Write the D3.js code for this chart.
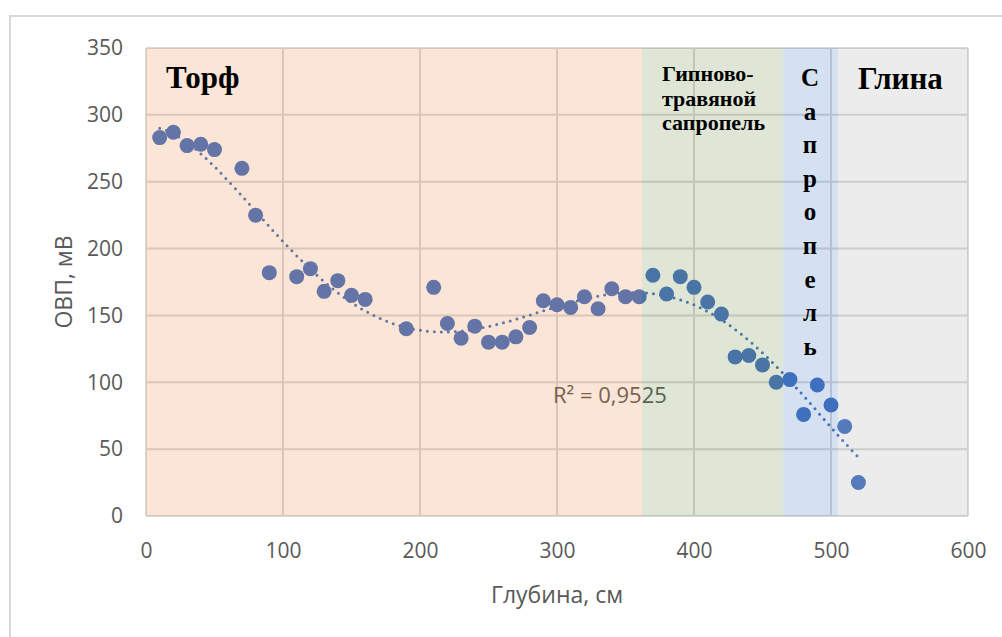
<!DOCTYPE html>
<html>
<head>
<meta charset="utf-8">
<script src="https://cdn.jsdelivr.net/npm/d3@7"></script>
<style>
  html, body { margin: 0; padding: 0; background: #fff; }
  svg { display: block; }
</style>
</head>
<body>
<div id="chart"></div>
<script>
// Depth (cm) and redox potential (mV)
const depth = [10, 20, 30, 40, 50, 70, 80, 90, 110, 120, 130, 140, 150, 160, 190, 210, 220, 230, 240,
  250, 260, 270, 280, 290, 300, 310, 320, 330, 340, 350, 360, 370, 380, 390, 400, 410, 420, 430,
  440, 450, 460, 470, 480, 490, 500, 510, 520];
const ovp = [283, 287, 277, 278, 274, 260, 225, 182, 179, 185, 168, 176, 165, 162, 140, 171, 144, 133, 142,
  130, 130, 134, 141, 161, 158, 156, 164, 155, 170, 164, 164, 180, 166, 179, 171, 160, 151, 119,
  120, 113, 100, 102, 76, 98, 83, 67, 25];

const xTicks = [0, 100, 200, 300, 400, 500, 600];
const yTicks = [0, 50, 100, 150, 200, 250, 300, 350];

// Layer zones along depth
const zoneNames = ['Торф', 'Гипново-травяной сапропель', 'Сапропель', 'Глина'];
const zoneStart = [0, 362, 465, 505];
const zoneEnd = [362, 465, 505, 600];
const zoneColors = ['#eb7d32', '#5f8232', '#2d69b4', '#a0a0a0'];

const rSquaredText = 'R² = 0,9525';
const trendOrder = 6;

const width = 1002;
const height = 637;
const margin = { top: 48, right: 34, bottom: 121, left: 146 };

const svg = d3
  .select('#chart')
  .append('svg')
  .attr('width', width)
  .attr('height', height);

// Outer chart frame
svg
  .append('rect')
  .attr('x', 10)
  .attr('y', 16)
  .attr('width', width + 20)
  .attr('height', height + 20)
  .attr('fill', '#fff')
  .attr('stroke', '#d9d9d9')
  .attr('stroke-width', 2);

const x = d3
  .scaleLinear()
  .domain([0, 600])
  .range([margin.left, width - margin.right]);

const y = d3
  .scaleLinear()
  .domain([0, 350])
  .range([height - margin.bottom, margin.top]);

// Grid lines
const grid = svg.append('g').attr('stroke', '#d9d9d9').attr('stroke-width', 2);
grid
  .selectAll('.vgrid')
  .data(xTicks)
  .join('line')
  .attr('x1', (d) => x(d))
  .attr('x2', (d) => x(d))
  .attr('y1', y(0))
  .attr('y2', y(350));
grid
  .selectAll('.hgrid')
  .data(yTicks)
  .join('line')
  .attr('x1', x(0))
  .attr('x2', x(600))
  .attr('y1', (d) => y(d))
  .attr('y2', (d) => y(d));

// Axes
const xAxis = svg
  .append('g')
  .attr('transform', `translate(0,${y(0)})`)
  .call(d3.axisBottom(x).tickValues(xTicks).tickSize(0).tickPadding(0))
  .call((g) => g.select('.domain').remove());
xAxis
  .selectAll('.tick text')
  .attr('dy', null)
  .attr('y', 42)
  .attr('fill', '#595959')
  .attr('font-family', 'Open Sans')
  .attr('font-size', 21);

const yAxis = svg
  .append('g')
  .attr('transform', `translate(${x(0)},0)`)
  .call(d3.axisLeft(y).tickValues(yTicks).tickSize(0).tickPadding(23))
  .call((g) => g.select('.domain').remove());
yAxis
  .selectAll('.tick text')
  .attr('fill', '#595959')
  .attr('font-family', 'Open Sans')
  .attr('font-size', 21);

svg
  .append('text')
  .attr('x', 557)
  .attr('y', 603)
  .attr('text-anchor', 'middle')
  .attr('fill', '#595959')
  .attr('font-family', 'Open Sans')
  .attr('font-size', 23)
  .text('Глубина, см');

svg
  .append('text')
  .attr('transform', 'translate(72,282) rotate(-90)')
  .attr('text-anchor', 'middle')
  .attr('fill', '#595959')
  .attr('font-family', 'Open Sans')
  .attr('font-size', 23)
  .text('ОВП, мВ');

// Points
const points = depth.map((d, i) => ({ depth: d, ovp: ovp[i] }));
svg
  .append('g')
  .selectAll('circle')
  .data(points)
  .join('circle')
  .attr('cx', (d) => x(d.depth))
  .attr('cy', (d) => y(d.ovp))
  .attr('r', 7.5)
  .attr('fill', '#4472c4');

// Polynomial trend line (least squares on the points)
const xMean = d3.mean(depth);
const xSpan = (d3.max(depth) - d3.min(depth)) / 2;
const norm = (v) => (v - xMean) / xSpan;

function polyfit(xs, ys, order) {
  const n = order + 1;
  const A = Array.from({ length: n }, () => new Array(n).fill(0));
  const b = new Array(n).fill(0);
  xs.forEach((xv, k) => {
    const t = norm(xv);
    for (let i = 0; i < n; i++) {
      b[i] += Math.pow(t, i) * ys[k];
      for (let j = 0; j < n; j++) A[i][j] += Math.pow(t, i + j);
    }
  });
  // Gauss elimination
  for (let c = 0; c < n; c++) {
    let p = c;
    for (let r = c + 1; r < n; r++) if (Math.abs(A[r][c]) > Math.abs(A[p][c])) p = r;
    [A[c], A[p]] = [A[p], A[c]];
    [b[c], b[p]] = [b[p], b[c]];
    for (let r = c + 1; r < n; r++) {
      const f = A[r][c] / A[c][c];
      for (let j = c; j < n; j++) A[r][j] -= f * A[c][j];
      b[r] -= f * b[c];
    }
  }
  const coef = new Array(n).fill(0);
  for (let r = n - 1; r >= 0; r--) {
    let s = b[r];
    for (let j = r + 1; j < n; j++) s -= A[r][j] * coef[j];
    coef[r] = s / A[r][r];
  }
  return coef;
}

const coef = polyfit(depth, ovp, trendOrder);
const trendAt = (v) => coef.reduce((s, c, i) => s + c * Math.pow(norm(v), i), 0);
const trendDepths = d3.range(d3.min(depth), d3.max(depth) + 0.5, 2);

svg
  .append('path')
  .attr('fill', 'none')
  .attr('stroke', '#4472c4')
  .attr('stroke-width', 3)
  .attr('stroke-linecap', 'round')
  .attr('stroke-dasharray', '0 7')
  .attr('d', d3.line().x((d) => x(d)).y((d) => y(trendAt(d)))(trendDepths));

svg
  .append('text')
  .attr('x', 553)
  .attr('y', 403)
  .attr('fill', '#595959')
  .attr('font-family', 'Open Sans')
  .attr('font-size', 22)
  .text(rSquaredText);

// Semi-transparent zone overlays on top of everything
svg
  .append('g')
  .selectAll('rect')
  .data(zoneNames)
  .join('rect')
  .attr('x', (_, i) => x(zoneStart[i]))
  .attr('width', (_, i) => x(zoneEnd[i]) - x(zoneStart[i]))
  .attr('y', y(350))
  .attr('height', y(0) - y(350))
  .attr('fill', (_, i) => zoneColors[i])
  .attr('fill-opacity', 0.2);

// Zone labels
const labels = svg
  .append('g')
  .attr('font-family', 'Liberation Serif')
  .attr('font-weight', 'bold')
  .attr('fill', '#000');

labels.append('text').attr('x', 166).attr('y', 88).attr('font-size', 31).text(zoneNames[0]);
labels.append('text').attr('x', 858).attr('y', 89).attr('font-size', 31).text(zoneNames[3]);

const gipLines = ['Гипново-', 'травяной', 'сапропель'];
labels
  .append('text')
  .attr('font-size', 22)
  .selectAll('tspan')
  .data(gipLines)
  .join('tspan')
  .attr('x', 662)
  .attr('y', (_, i) => 81 + i * 24.5)
  .text((d) => d);

labels
  .append('text')
  .attr('font-size', 25)
  .attr('text-anchor', 'middle')
  .selectAll('tspan')
  .data(Array.from(zoneNames[2]))
  .join('tspan')
  .attr('x', 810)
  .attr('y', (_, i) => 86 + i * 33.6)
  .text((d) => d);
</script>
</body>
</html>
